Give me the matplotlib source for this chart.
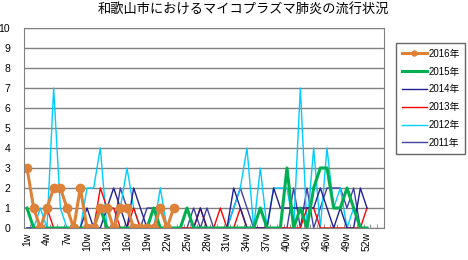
import numpy as np
import matplotlib
matplotlib.use('Agg')
from matplotlib import pyplot as plt
from matplotlib.ticker import FixedLocator

plt.rcParams['font.family'] = ['Liberation Sans', 'Noto Sans CJK JP']

weeks = np.arange(1, 53)
week_labels = ['{}w'.format(w) for w in weeks]

y2016 = [3, 1, 0, 1, 2, 2, 1, 0, 2, 0, 0, 1, 1, 0, 1, 1, 0, 0, 0, 0, 1, 0, 1]
y2015 = [1, 0, 0, 0, 0, 0, 0, 0, 0, 0, 0, 1, 0, 0, 0, 0, 0, 0, 0, 1,
         0, 0, 0, 0, 1, 0, 0, 0, 0, 0, 0, 0, 0, 0, 0, 1, 0, 0, 0, 3,
         0, 1, 0, 2, 3, 3, 1, 1, 2, 1, 0, 0]
y2014 = [0, 0, 0, 0, 0, 0, 0, 0, 0, 1, 0, 0, 1, 2, 1, 0, 2, 1, 0, 1,
         1, 0, 0, 0, 1, 0, 1, 0, 0, 0, 0, 2, 1, 0, 0, 0, 0, 2, 1, 1,
         1, 1, 1, 1, 2, 1, 0, 1, 0, 0, 2, 1]
y2013 = [1, 0, 0, 1, 0, 0, 0, 0, 0, 0, 0, 2, 1, 1, 0, 0, 1, 0, 0, 0,
         1, 0, 0, 0, 0, 0, 1, 0, 0, 1, 0, 0, 1, 0, 0, 0, 0, 0, 0, 0,
         0, 0, 1, 1, 0, 0, 0, 0, 0, 0, 0, 1]
y2012 = [0, 0, 1, 0, 7, 1, 0, 0, 0, 2, 2, 4, 0, 0, 1, 3, 1, 0, 0, 0,
         2, 0, 0, 0, 1, 0, 0, 0, 0, 0, 0, 1, 2, 4, 0, 3, 0, 2, 2, 2,
         0, 7, 0, 4, 0, 4, 1, 2, 0, 1, 0, 0]
y2011 = [1, 0, 0, 0, 0, 0, 0, 0, 0, 0, 0, 1, 1, 0, 2, 1, 0, 0, 1, 1,
         0, 0, 0, 0, 0, 1, 0, 1, 0, 0, 0, 1, 2, 1, 0, 0, 0, 0, 0, 0,
         2, 0, 2, 0, 1, 2, 2, 2, 1, 2, 0, 0]

fig = plt.figure(figsize=(4.68, 2.6), dpi=100)
ax = fig.add_axes([24 / 468, 32 / 260, 360 / 468, 200 / 260])

ax.plot(weeks, y2011, color='#4040A0', lw=1.0, label='2011年')
ax.plot(weeks, y2012, color='#00CCFF', lw=1.0, label='2012年')
ax.plot(weeks, y2013, color='#FF0000', lw=1.0, label='2013年')
ax.plot(weeks, y2014, color='#1F1F96', lw=1.0, label='2014年')
ax.plot(weeks, y2015, color='#00B050', lw=2.2, label='2015年')
ax.plot(weeks[:len(y2016)], y2016, color='#DE8239', lw=2.2, marker='o',
        markersize=6, label='2016年')

ax.set_ylim(0, 10)
ax.set_xlim(0.55, 54.55)
ax.set_yticks(range(0, 11))
ax.yaxis.grid(True, color='#808080', lw=1.0)
ax.set_axisbelow(True)

ax.set_xticks(weeks[::3])
ax.set_xticklabels(week_labels[::3], rotation=90)
ax.xaxis.set_minor_locator(FixedLocator(np.arange(0.5, 54, 1)))
ax.tick_params(axis='x', which='major', length=0, labelsize=7.5, pad=3)
ax.tick_params(axis='x', which='minor', direction='in', length=3, color='#808080')
ax.tick_params(axis='y', length=0, labelsize=7.5, pad=10)
for s in ax.spines.values():
    s.set_color('#808080')

fig.suptitle('和歌山市におけるマイコプラズマ肺炎の流行状況', fontsize=9.5, x=0.52, y=0.985)

h, l = ax.get_legend_handles_labels()
fig.legend(h[::-1], l[::-1], loc='upper left', bbox_to_anchor=(396 / 468, 1 - 43 / 260),
           fontsize=7, frameon=True, fancybox=False, edgecolor='#404040',
           handlelength=2.6, labelspacing=0.8, borderpad=0.6, handletextpad=0.1,
           markerscale=0.6, borderaxespad=0)

fig.savefig('out.png', dpi=100)
